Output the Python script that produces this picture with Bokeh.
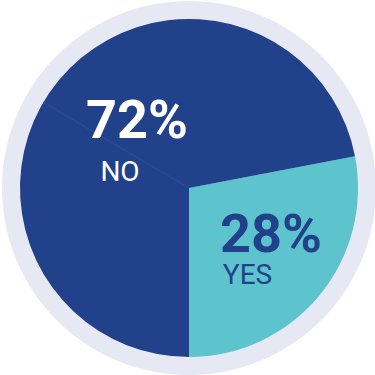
import math
from bokeh.plotting import figure
from bokeh.models import Range1d
from bokeh.core.properties import value
from bokeh.embed import file_html
from bokeh.resources import INLINE

# survey answers, in drawing order (counter-clockwise from the bottom)
labels = ["YES", "NO"]
shares = [28, 72]
pct_labels = ["28%", "72%"]

TEAL = "#5DC4CD"
NAVY = "#22418B"
RING = "#E6E8F3"
colors = [TEAL, NAVY]
text_colors = [NAVY, "#FFFFFF"]

FONT = "Roboto"

W = H = 375
cx, cy = 188.5, 187.5
R_RING, R_PIE = 187, 169

p = figure(width=W, height=H, output_backend="svg", toolbar_location=None,
           x_range=Range1d(0, W), y_range=Range1d(0, H), min_border=0)
p.axis.visible = False
p.grid.visible = False
p.outline_line_color = None
p.background_fill_color = "white"
p.border_fill_color = "white"

# pale outer ring
p.circle(x=[cx], y=[cy], radius=R_RING, fill_color=RING, line_color=None)

# wedges from cumulative shares, starting straight down
total = float(sum(shares))
starts, ends = [], []
acc = -math.pi / 2
for s in shares:
    starts.append(acc)
    acc += 2 * math.pi * s / total
    ends.append(acc)
p.wedge(x=[cx] * len(shares), y=[cy] * len(shares), radius=R_PIE,
        start_angle=starts, end_angle=ends, fill_color=colors, line_color=None)

# faint seam inside the navy slice
seam = math.radians(149.5)
p.line(x=[cx, cx + R_PIE * math.cos(seam)], y=[cy, cy + R_PIE * math.sin(seam)],
       line_color="#2D4C96", line_width=1.2)

# value and answer labels (y is the vertical middle of the capitals)
pct_x = [270.5, 136.5]
pct_y = [H - 233, H - 119]
lab_x = [247, 119.5]
lab_y = [H - 274, H - 170.5]
p.text(x=pct_x, y=pct_y, text=pct_labels, text_color=text_colors,
       text_font=value(FONT), text_font_style="bold", text_font_size="54px",
       text_align="center", text_baseline="middle")
p.text(x=lab_x, y=lab_y, text=labels, text_color=text_colors,
       text_font=value(FONT), text_font_size="28px",
       text_align="center", text_baseline="middle")

open("out.html", "w").write(file_html(p, INLINE))
